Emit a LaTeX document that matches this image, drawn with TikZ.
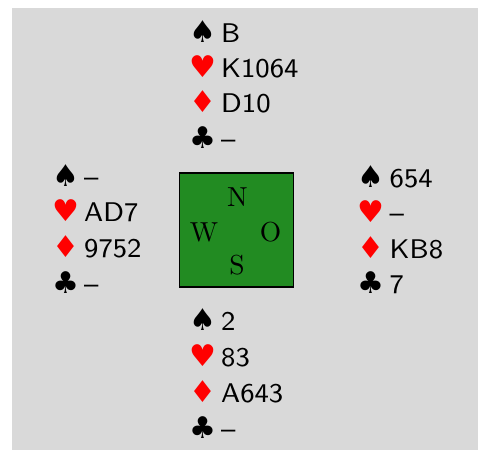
\documentclass[tikz,border=0pt]{standalone}
\usepackage{fontspec}
\newfontfamily\symfont{DejaVu Sans}
\newfontfamily\handfont{lmsans8-regular.otf}
\newfontfamily\compfont{lmroman10-regular.otf}
\definecolor{bggray}{RGB}{217,217,217}
\definecolor{felt}{RGB}{34,139,34}
\definecolor{suitred}{RGB}{255,0,0}
\newcommand\symsz{\fontsize{30}{33}\selectfont}
\newcommand\SpS{\makebox[37pt][c]{\symfont\symsz ♠}}
\newcommand\HeS{\makebox[37pt][c]{\color{suitred}\symfont\symsz ♥}}
\newcommand\DiS{\makebox[37pt][c]{\color{suitred}\symfont\symsz ♦}}
\newcommand\ClS{\makebox[37pt][c]{\symfont\symsz ♣}}
\begin{document}
\begin{tikzpicture}[x=1pt,y=-1pt,
  handline/.style={anchor=base west,inner sep=0pt,font=\handfont\fontsize{27}{33}\selectfont},
  compass/.style={anchor=base,inner sep=0pt,font=\compfont\fontsize{27.5}{33}\selectfont},
  tablebox/.style={draw=black,line width=1.2pt,fill=felt,minimum size=114pt,inner sep=0pt}]
\useasboundingbox (0,0) rectangle (478,450);
\fill[white] (0,0) rectangle (478,450);
\fill[bggray] (12,8) rectangle (478,450);
% table
\node[tablebox] (table) at (236.5,230) {};
\node[compass] (cn) at (237.5,206) {N};
\node[compass] (cw) at (204,241) {W};
\node[compass] (co) at (270.5,241.5) {O};
\node[compass] (cs) at (237,274.5) {S};
% North
\node[handline] (n1) at (184,42) {\SpS B};
\node[handline] (n2) at (184,77) {\HeS K1064};
\node[handline] (n3) at (184,112) {\DiS D10};
\node[handline] (n4) at (184,148) {\ClS –};
% West
\node[handline] (w1) at (47,186) {\SpS –};
\node[handline] (w2) at (47,221) {\HeS AD7};
\node[handline] (w3) at (47,257) {\DiS 9752};
\node[handline] (w4) at (47,293) {\ClS –};
% East
\node[handline] (e1) at (352.5,187) {\SpS 654};
\node[handline] (e2) at (352.5,222) {\HeS –};
\node[handline] (e3) at (352.5,258) {\DiS KB8};
\node[handline] (e4) at (352.5,293) {\ClS 7};
% South
\node[handline] (s1) at (184,330) {\SpS 2};
\node[handline] (s2) at (184,366) {\HeS 83};
\node[handline] (s3) at (184,402) {\DiS A643};
\node[handline] (s4) at (184,438) {\ClS –};
\end{tikzpicture}
\end{document}
